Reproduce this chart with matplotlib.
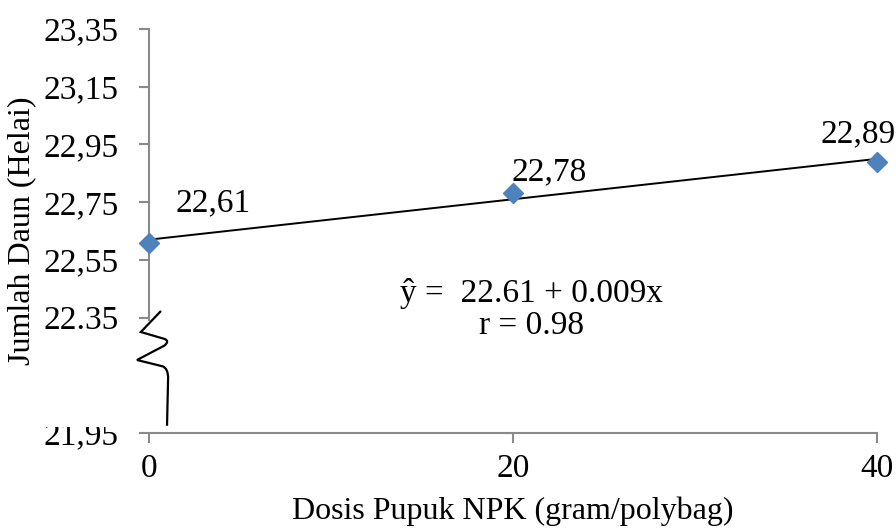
import matplotlib.pyplot as plt
import numpy as np
from matplotlib.path import Path
from matplotlib.patches import PathPatch, Rectangle

dosis = [0, 20, 40]
daun = [22.61, 22.78, 22.89]
point_labels = ["22,61", "22,78", "22,89"]
yticks = [21.95, 22.15, 22.35, 22.55, 22.75, 22.95, 23.15, 23.35]
ytick_labels = ["21,95", "", "22.35", "22,55", "22,75", "22,95", "23,15", "23,35"]
xticks = [0, 20, 40]
persamaan = "ŷ =  22.61 + 0.009x"
korelasi = "r = 0.98"

plt.rcParams['font.family'] = ['Liberation Serif', 'DejaVu Serif']
fs = 24
fs_judul = 23
axis_grey = "#8a8a8a"

fig = plt.figure(figsize=(8.96, 5.31), dpi=100)
ax = fig.add_axes([149 / 896, 1 - 433 / 531, (877 - 149) / 896, (433 - 29) / 531])

# garis regresi dari data
b, a = np.polyfit(dosis, daun, 1)
xx = np.array([min(dosis), max(dosis)])
ax.plot(xx, a + b * xx, color="black", lw=1.4, zorder=2)
ax.plot(dosis, daun, linestyle="none", marker="D", markersize=10.5,
        color="#4F81BD", zorder=3, clip_on=False)

# posisi label titik (geser relatif terhadap titik)
label_geser = [(1.43, 0.137, "left"), (-0.1, 0.074, "left"), (-1.05, 0.096, "center")]
for x, y, lbl, (dx, dy, ha) in zip(dosis, daun, point_labels, label_geser):
    ax.text(x + dx, y + dy, lbl, fontsize=fs, ha=ha, va="center")

ax.text(21.0, 22.435, persamaan, fontsize=fs, ha="center", va="center")
ax.text(21.0, 22.322, korelasi, fontsize=fs, ha="center", va="center")

ax.set_xlim(0, 40)
ax.set_ylim(21.95, 23.35)
ax.set_xticks(xticks)
ax.set_yticks(yticks)
ax.set_yticklabels(ytick_labels)
ax.tick_params(axis="x", direction="out", length=7, color=axis_grey, width=1.5,
               labelsize=fs, pad=8)
ax.tick_params(axis="y", direction="out", length=7, color=axis_grey, width=1.5,
               labelsize=fs, pad=15)
ax.yaxis.get_major_ticks()[1].tick1line.set_visible(False)

for s in ["top", "right"]:
    ax.spines[s].set_visible(False)
ax.spines["bottom"].set_color(axis_grey)
ax.spines["bottom"].set_linewidth(1.5)
ax.spines["left"].set_color(axis_grey)
ax.spines["left"].set_linewidth(1.5)
ax.spines["left"].set_bounds(22.34, 23.35)

ax.set_xlabel("Dosis Pupuk NPK (gram/polybag)", fontsize=fs_judul)
ax.xaxis.set_label_coords(0.5, -0.158)
ax.set_ylabel("Jumlah Daun (Helai)", fontsize=fs_judul)
ax.yaxis.set_label_coords(-0.155, 0.5)

# tanda patah sumbu
verts = [(0.66, 22.373), (-0.45, 22.30), (0.85, 22.276), (1.15, 22.269),
         (0.85, 22.253), (-0.66, 22.203), (0.75, 22.181), (1.05, 22.174),
         (1.05, 22.14), (0.99, 21.975)]
codes = [Path.MOVETO, Path.LINETO, Path.LINETO, Path.CURVE3, Path.CURVE3,
         Path.LINETO, Path.LINETO, Path.CURVE3, Path.CURVE3, Path.LINETO]
ax.add_patch(PathPatch(Path(verts, codes), fill=False, lw=1.6,
                       edgecolor="black", clip_on=False, zorder=4))

# label 21,95 terpotong di bagian atas
fig.patches.append(Rectangle((40 / 896, 1 - 427 / 531), 85 / 896, 17 / 531,
                             transform=fig.transFigure, facecolor="white",
                             edgecolor="none", zorder=5))

fig.savefig("out.png", dpi=100)
